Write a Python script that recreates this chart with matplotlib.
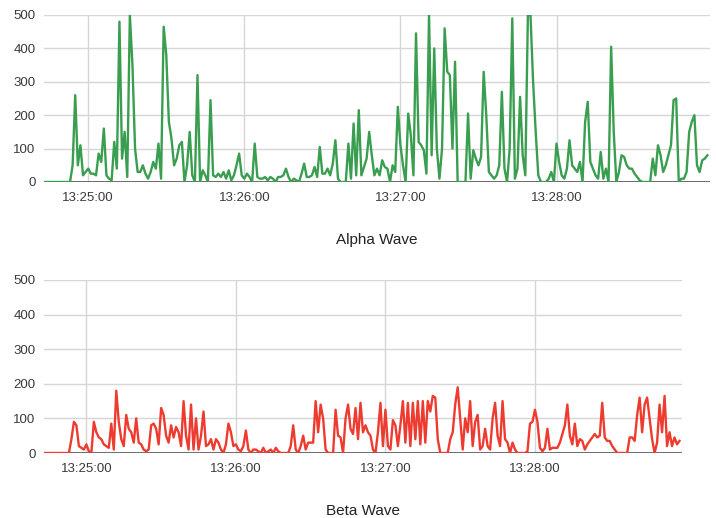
import numpy as np
import matplotlib
matplotlib.use("Agg")
import matplotlib.pyplot as plt
import matplotlib.dates as mdates

plt.rcParams["font.family"] = ["Liberation Sans", "DejaVu Sans"]

# one sample per second, starting 13:24:43
start = np.datetime64("2000-01-01T13:24:43")

alpha = [
    0, 0, 0, 0, 0, 0, 0, 0, 0, 0,
    0, 50, 260, 50, 110, 20, 30, 40, 25, 25,
    20, 85, 60, 160, 20, 10, 5, 120, 40, 480,
    70, 150, 15, 500, 350, 100, 30, 30, 50, 25,
    10, 30, 60, 40, 115, 10, 465, 380, 180, 130,
    50, 70, 110, 120, 0, 50, 150, 20, 0, 320,
    0, 35, 20, 0, 245, 20, 15, 25, 15, 30,
    10, 35, 5, 20, 50, 85, 20, 10, 25, 15,
    0, 115, 15, 10, 10, 15, 5, 15, 10, 0,
    15, 15, 20, 40, 15, 0, 10, 5, 0, 25,
    55, 15, 15, 20, 45, 15, 105, 25, 25, 40,
    20, 55, 125, 10, 0, 0, 0, 115, 10, 175,
    20, 215, 20, 45, 70, 150, 80, 20, 40, 20,
    65, 45, 40, 0, 50, 30, 225, 110, 50, 0,
    205, 140, 20, 445, 120, 110, 95, 25, 500, 80,
    400, 100, 10, 100, 460, 330, 320, 100, 360, 0,
    0, 0, 0, 205, 10, 95, 70, 50, 75, 330,
    200, 30, 20, 10, 20, 50, 270, 40, 0, 100,
    490, 10, 40, 255, 80, 20, 500, 500, 300, 150,
    20, 0, 0, 0, 10, 30, 0, 115, 60, 20,
    10, 40, 125, 50, 40, 30, 60, 0, 180, 240,
    60, 40, 20, 10, 90, 10, 40, 0, 405, 150,
    0, 30, 80, 75, 50, 40, 40, 25, 15, 5,
    0, 0, 0, 0, 70, 20, 110, 80, 30, 50,
    80, 110, 245, 250, 0, 10, 10, 30, 150, 180,
    200, 50, 30, 65, 70, 80,
]

beta = [
    0, 0, 0, 0, 0, 0, 0, 0, 0, 0,
    0, 40, 90, 80, 20, 15, 10, 25, 5, 0,
    90, 60, 45, 40, 25, 20, 15, 85, 10, 180,
    90, 40, 20, 110, 70, 60, 30, 100, 30, 25,
    10, 5, 10, 80, 85, 70, 25, 130, 110, 50,
    30, 80, 45, 75, 60, 20, 150, 50, 10, 140,
    10, 100, 10, 50, 120, 20, 25, 40, 10, 40,
    30, 10, 0, 25, 85, 60, 20, 25, 10, 5,
    20, 65, 10, 0, 10, 10, 5, 0, 15, 0,
    5, 10, 0, 15, 5, 0, 0, 0, 0, 20,
    80, 10, 0, 20, 50, 10, 30, 30, 30, 150,
    60, 140, 100, 10, 0, 0, 0, 125, 50, 45,
    0, 100, 140, 70, 55, 130, 40, 145, 60, 80,
    60, 50, 10, 0, 60, 145, 20, 125, 20, 10,
    95, 80, 20, 80, 150, 30, 145, 20, 145, 40,
    150, 25, 150, 30, 150, 120, 165, 160, 40, 0,
    0, 0, 0, 40, 60, 140, 190, 100, 10, 100,
    60, 150, 20, 90, 110, 10, 20, 70, 20, 10,
    100, 145, 50, 20, 150, 40, 30, 0, 30, 10,
    0, 0, 0, 0, 5, 85, 90, 125, 90, 15,
    5, 15, 70, 10, 15, 15, 15, 30, 55, 80,
    140, 50, 25, 85, 20, 40, 35, 10, 25, 35,
    45, 55, 45, 50, 145, 45, 35, 35, 20, 10,
    0, 0, 0, 0, 0, 45, 45, 35, 110, 160,
    60, 140, 160, 100, 40, 0, 30, 140, 60, 165,
    20, 60, 20, 45, 25, 35,
]

y_ticks = [0, 100, 200, 300, 400, 500]
minute_ticks = ["13:25:00", "13:26:00", "13:27:00", "13:28:00"]

times_a = start + np.arange(len(alpha)) * np.timedelta64(1, "s")
times_b = start + np.arange(len(beta)) * np.timedelta64(1, "s")
tick_pos = [np.datetime64("2000-01-01T" + t) for t in minute_ticks]

fig = plt.figure(figsize=(7.16, 5.18), dpi=100)
ax1 = fig.add_axes([44 / 716, 336 / 518, 666 / 716, 167 / 518])
ax2 = fig.add_axes([44 / 716, 65 / 518, 638 / 716, 173 / 518])


def style(ax, times, vals, color, title, lpad):
    ax.plot(times, vals, color=color, lw=1.7, zorder=3)
    ax.set_ylim(0, 500)
    ax.set_xlim(times[0], times[-1] + np.timedelta64(1, "s"))
    ax.set_yticks(y_ticks)
    ax.set_xticks(tick_pos)
    ax.xaxis.set_major_formatter(mdates.DateFormatter("%H:%M:%S"))
    ax.grid(True, color="#d6d6d6", lw=1, zorder=0)
    ax.axhline(0, color="#555555", lw=1.2, zorder=2)
    for s in ax.spines.values():
        s.set_visible(False)
    ax.tick_params(length=0, labelsize=9.5, labelcolor="#3a3a3a")
    ax.tick_params(axis="y", pad=6)
    ax.tick_params(axis="x", pad=7)
    ax.set_xlabel(title, fontsize=11, color="#222222", labelpad=lpad)


style(ax1, times_a, alpha, "#3a9e50", "Alpha Wave", 21)
style(ax2, times_b, beta, "#ee3b2f", "Beta Wave", 21)

fig.savefig("out.png", dpi=100)
